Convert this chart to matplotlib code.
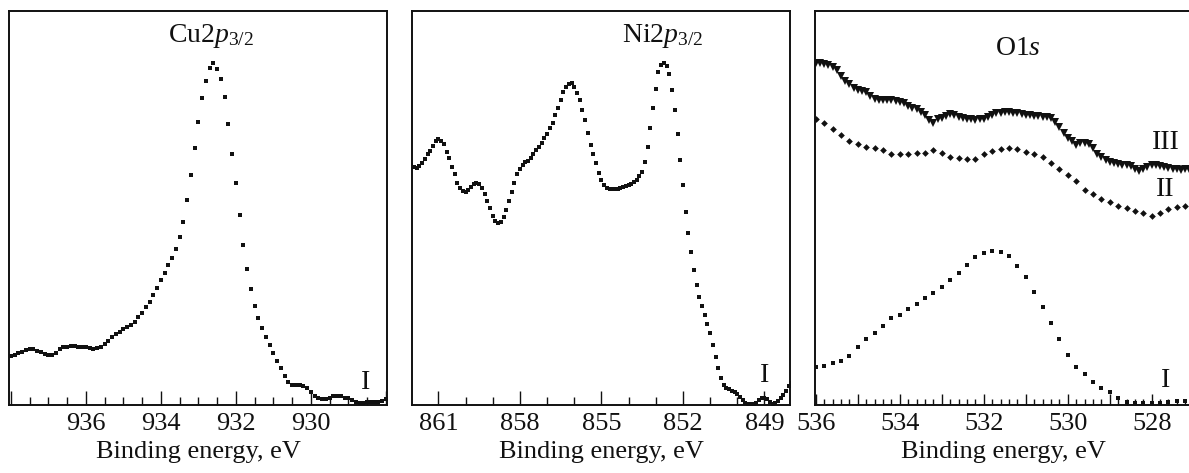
import numpy as np
import matplotlib
matplotlib.use("Agg")
import matplotlib.pyplot as plt
from matplotlib.ticker import MultipleLocator, FixedLocator, FuncFormatter

plt.rcParams['font.family'] = ['Liberation Serif', 'DejaVu Serif']
plt.rcParams['mathtext.fontset'] = 'custom'
plt.rcParams['mathtext.rm'] = 'Liberation Serif'
plt.rcParams['mathtext.it'] = 'Liberation Serif:italic'

# ---- Cu2p3/2 spectrum (0.1 eV steps from 938.0 eV), intensity in arb. units
cu_start, cu_step = 938.0, 0.1
cu_intensity = [
    12.4, 12.7, 13.1, 13.5, 14.0, 14.2, 14.1, 13.8, 13.4, 13.0,
    12.6, 12.7, 13.3, 14.1, 14.6, 14.8, 15.0, 14.9, 14.8, 14.6,
    14.6, 14.4, 14.3, 14.4, 14.8, 15.4, 16.3, 17.2, 17.9, 18.6,
    19.2, 19.7, 20.3, 21.1, 22.3, 23.4, 24.8, 26.1, 27.8, 29.7,
    31.6, 33.5, 35.5, 37.3, 39.6, 42.7, 46.5, 52.0, 58.4, 65.3,
    71.9, 77.8, 82.3, 85.5, 86.9, 85.4, 82.7, 78.1, 71.4, 63.8,
    56.4, 48.1, 40.6, 34.4, 29.4, 25.1, 22.0, 19.5, 17.2, 15.2,
    13.3, 11.2, 9.3, 7.4, 5.9, 5.2, 5.1, 5.0, 4.7, 4.2,
    3.4, 2.3, 1.7, 1.5, 1.5, 1.9, 2.2, 2.4, 2.3, 1.9,
    1.7, 1.3, 0.8, 0.6, 0.6, 0.7, 0.7, 0.8, 0.8, 1.1,
    1.5,
]
cu_ticks = [936, 934, 932, 930]

# ---- Ni2p3/2 spectrum (0.1 eV steps from 862.0 eV)
ni_start, ni_step = 862.0, 0.1
ni_intensity = [
    60.9, 60.5, 60.1, 60.7, 61.4, 62.4, 63.6, 64.4, 65.7, 66.9,
    67.4, 67.1, 66.2, 64.3, 62.6, 60.3, 58.6, 56.4, 55.0, 54.2,
    54.1, 54.6, 55.4, 56.2, 56.4, 56.0, 55.0, 53.6, 51.7, 50.0,
    48.0, 46.8, 46.3, 46.5, 47.6, 49.5, 51.7, 54.1, 56.4, 58.6,
    60.0, 61.0, 61.6, 62.0, 62.7, 63.8, 64.7, 65.6, 66.4, 67.8,
    68.9, 70.2, 71.5, 73.6, 75.5, 77.4, 79.4, 80.6, 81.5, 81.6,
    80.6, 79.1, 77.4, 74.9, 72.3, 69.1, 66.0, 63.7, 61.3, 59.0,
    57.1, 55.8, 55.1, 54.7, 54.7, 54.8, 54.9, 55.1, 55.3, 55.6,
    55.8, 56.1, 56.5, 57.1, 58.0, 59.2, 61.8, 65.6, 70.2, 75.3,
    80.1, 84.6, 86.3, 86.9, 86.0, 84.0, 79.9, 74.9, 68.9, 62.2,
    55.8, 49.1, 43.6, 38.9, 34.3, 30.5, 27.5, 25.1, 22.8, 20.6,
    18.4, 15.2, 12.3, 9.3, 6.8, 5.1, 4.4, 4.0, 3.6, 3.3,
    2.8, 2.1, 1.3, 0.6, 0.3, 0.2, 0.3, 0.6, 1.3, 1.7,
    1.9, 1.4, 0.8, 0.3, 0.4, 1.0, 1.7, 2.5, 3.6, 4.8,
    5.7,
]
ni_ticks = [861, 858, 855, 852, 849]

# ---- O1s spectra: samples I and II (0.2 eV steps), III (0.1 eV steps), from 536.0 eV
o_start = 536.0
o1_step = 0.2
o1_intensity = [
    9.7, 10.0, 10.7, 11.2, 12.5, 14.7, 16.7, 18.4, 20.1, 22.0,
    22.8, 24.4, 25.7, 27.1, 28.4, 29.9, 31.7, 33.5, 35.5, 37.6,
    38.7, 39.0, 38.8, 37.8, 35.4, 32.6, 28.8, 25.0, 20.8, 16.7,
    12.7, 9.7, 7.8, 5.9, 4.3, 3.2, 1.9, 0.8, 0.4, 0.4,
    0.5, 0.4, 0.7, 0.9, 1.0,
]
o2_step = 0.2
o2_intensity = [
    72.5, 71.7, 70.0, 68.5, 67.1, 66.2, 65.4, 65.3, 64.7, 63.6,
    63.6, 63.7, 63.9, 64.0, 64.7, 63.9, 63.0, 62.8, 62.5, 62.5,
    63.6, 64.5, 65.0, 65.3, 65.0, 64.3, 63.7, 62.9, 61.3, 59.8,
    58.4, 56.9, 54.6, 53.6, 52.4, 51.6, 50.6, 49.9, 49.2, 48.8,
    48.0, 48.8, 49.7, 50.3, 50.6,
]
o3_step = 0.1
o3_intensity = [
    86.7, 86.7, 86.5, 86.2, 85.7, 84.9, 83.6, 82.3, 81.4, 80.4,
    79.9, 79.6, 79.4, 78.4, 77.7, 77.4, 77.4, 77.4, 77.3, 77.1,
    76.9, 76.6, 76.0, 75.5, 75.0, 74.4, 73.5, 72.3, 71.7, 72.5,
    72.9, 73.3, 73.8, 73.6, 73.2, 72.9, 72.7, 72.7, 72.3, 72.5,
    72.7, 73.0, 73.5, 74.0, 74.2, 74.4, 74.4, 74.2, 74.0, 73.8,
    73.6, 73.5, 73.4, 73.3, 73.2, 73.2, 72.8, 71.8, 70.5, 69.0,
    67.8, 66.9, 66.1, 66.5, 66.6, 66.2, 65.2, 63.8, 63.0, 62.2,
    61.6, 61.3, 61.2, 61.0, 60.8, 60.6, 60.0, 59.4, 59.8, 60.5,
    60.8, 60.9, 60.7, 60.4, 60.2, 60.0, 59.8, 59.7, 59.8, 59.8,
]
o_ticks = [536, 534, 532, 530, 528]


def grid(start, step, values):
    return start - step * np.arange(len(values))


INK = '#111111'
FS = 19
W, H = 1189, 473
fig = plt.figure(figsize=(W / 100, H / 100), dpi=100)


def make_axes(x0, x1, y0=11, y1=405):
    return fig.add_axes([x0 / W, 1 - y1 / H, (x1 - x0) / W, (y1 - y0) / H])


def style(ax, xlim, labelled, long_step, minor):
    ax.set_xlim(*xlim)
    ax.set_ylim(0, 100)
    ax.set_yticks([])
    for s in ax.spines.values():
        s.set_linewidth(1.4)
        s.set_color(INK)
    lo, hi = sorted(xlim)
    longs = np.arange(np.ceil(lo / long_step) * long_step, hi + 1e-9, long_step)
    ax.xaxis.set_major_locator(FixedLocator(longs))
    ax.xaxis.set_minor_locator(MultipleLocator(minor))
    ax.xaxis.set_major_formatter(FuncFormatter(
        lambda v, p: f"{v:.0f}" if any(abs(v - t) < 1e-6 for t in labelled) else ""))
    ax.tick_params(axis='x', which='both', direction='in', top=False,
                   colors=INK, labelsize=FS, pad=6)
    ax.tick_params(axis='x', which='major', length=10, width=1.0)
    ax.tick_params(axis='x', which='minor', length=5.5, width=1.0)
    ax.set_xlabel('Binding energy, eV', fontsize=FS, color=INK, labelpad=4)


SQ = dict(ls='none', marker='s', ms=2.8, mew=0, color=INK)

# Cu2p3/2
ax1 = make_axes(9, 387)
style(ax1, (938.05, 927.97), cu_ticks, 2, 0.5)
ax1.plot(grid(cu_start, cu_step, cu_intensity), cu_intensity, **SQ)
ax1.text(932.66, 92.2, r'Cu2$p_{3/2}$', fontsize=20, ha='center',
         va='baseline', color=INK)
ax1.text(928.55, 5.6, 'I', fontsize=20, ha='center', va='center', color=INK)

# Ni2p3/2
ax2 = make_axes(412.3, 790)
style(ax2, (861.96, 848.06), ni_ticks, 3, 1)
ax2.plot(grid(ni_start, ni_step, ni_intensity), ni_intensity, **SQ)
ax2.text(852.73, 92.2, r'Ni2$p_{3/2}$', fontsize=20, ha='center',
         va='baseline', color=INK)
ax2.text(849.0, 7.6, 'I', fontsize=20, ha='center', va='center', color=INK)

# O1s
ax3 = make_axes(815, 1192)
style(ax3, (536.02, 527.04), o_ticks, 1, 0.2)
ax3.tick_params(axis='x', which='major', length=8)
ax3.tick_params(axis='x', which='minor', length=4)
ax3.plot(grid(o_start, o3_step, o3_intensity), o3_intensity, ls='none',
         marker='v', ms=5.5, mew=0, color=INK)
ax3.plot(grid(o_start, o2_step, o2_intensity), o2_intensity, ls='none',
         marker='D', ms=3.4, mew=0, color=INK)
ax3.plot(grid(o_start, o1_step, o1_intensity), o1_intensity, **SQ)
ax3.text(531.19, 88.8, r'O1$s$', fontsize=20, ha='center', va='baseline',
         color=INK)
for label, yv in (('III', 66.5), ('II', 54.8), ('I', 6.3)):
    ax3.text(527.67, yv, label, fontsize=20, ha='center', va='center',
             color=INK)

fig.savefig('out.png', dpi=100)
